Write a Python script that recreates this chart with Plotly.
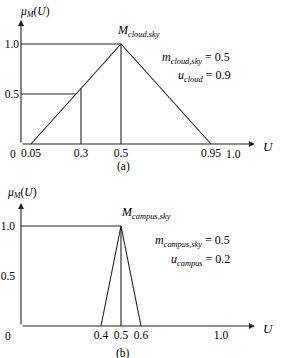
import numpy as np
import plotly.graph_objects as go

# ---- data (panel a) ----
cloud_u = [0.05, 0.5, 0.95]
cloud_mu = [0.0, 1.0, 0.0]
cloud_guide_x = 0.3
cloud_guide_mu = 0.5
cloud_xticks = [0.05, 0.3, 0.5, 0.95]
cloud_xtext = ["0.05", "0.3", "0.5", "0.95"]
cloud_xend = 1.0
cloud_xend_text = "1.0"
m_cloud_sky = 0.5
u_cloud = 0.9

# ---- data (panel b) ----
campus_u = [0.4, 0.5, 0.6]
campus_mu = [0.0, 1.0, 0.0]
campus_xticks = [0.4, 0.5, 0.6, 1.0]
campus_xtext = ["0.4", "0.5", "0.6", "1.0"]
m_campus_sky = 0.5
u_campus = 0.2

yticks = [0.5, 1.0]
ytext = ["0.5", "1.0"]

W, H = 281, 358
FONT = "Liberation Serif, Times New Roman, serif"
LC = "#222222"
LW = 1.1
TF = 11.5

fig = go.Figure()


def line(x, y, xa, ya):
    fig.add_trace(go.Scatter(x=x, y=y, mode="lines", xaxis=xa, yaxis=ya,
                             line=dict(color=LC, width=LW),
                             hoverinfo="skip", showlegend=False))


# panel a
line(cloud_u, cloud_mu, "x", "y")
peak_a = cloud_u[1]
line([0, peak_a], [1, 1], "x", "y")
line([peak_a, peak_a], [0, 1], "x", "y")
# guide lines to the rising edge
edge_x = float(np.interp(cloud_guide_mu, cloud_mu[:2], cloud_u[:2]))
edge_y = float(np.interp(cloud_guide_x, cloud_u[:2], cloud_mu[:2]))
line([0, edge_x], [cloud_guide_mu, cloud_guide_mu], "x", "y")
line([cloud_guide_x, cloud_guide_x], [0, edge_y], "x", "y")

# panel b
line(campus_u, campus_mu, "x2", "y2")
peak_b = campus_u[1]
line([0, peak_b], [1, 1], "x2", "y2")
line([peak_b, peak_b], [0, 1], "x2", "y2")

xr = [-0.105, 1.3]
common_ax = dict(showgrid=False, zeroline=False, showline=False, ticks="",
                 tickangle=0,
                 tickfont=dict(family=FONT, size=TF, color="black"), fixedrange=True)

fig.update_layout(
    width=W, height=H, margin=dict(l=0, r=0, t=0, b=0),
    plot_bgcolor="white", paper_bgcolor="white",
    xaxis=dict(domain=[0, 1], range=xr, anchor="free", position=(H - 144) / H,
               tickvals=cloud_xticks, ticktext=cloud_xtext, ticklabelstandoff=0,
               **common_ax),
    yaxis=dict(domain=[(H - 172) / H, 1], range=[-0.28, 1.44], anchor="free",
               position=21 / W, tickvals=yticks, ticktext=ytext, ticklabelstandoff=2,
               **common_ax),
    xaxis2=dict(domain=[0, 1], range=xr, anchor="free", position=32 / H,
                tickvals=campus_xticks, ticktext=campus_xtext, ticklabelstandoff=0,
                **common_ax),
    yaxis2=dict(domain=[0, (H - 172) / H], range=[-0.32, 1.54], anchor="free",
                position=21 / W, tickvals=yticks, ticktext=ytext, ticklabelstandoff=6,
                **common_ax),
)

anns = []


def arrow(x, y, ax, ay, xr_, yr_):
    anns.append(dict(x=x, y=y, ax=ax, ay=ay, xref=xr_, yref=yr_, axref=xr_, ayref=yr_,
                     showarrow=True, arrowhead=2, arrowsize=1.1, arrowwidth=LW,
                     arrowcolor=LC, text=""))


def txt(x, y, s, xr_, yr_, anchor="center", size=12, xshift=0):
    anns.append(dict(x=x, y=y, xref=xr_, yref=yr_, text=s, showarrow=False,
                     xanchor=anchor, yanchor="middle", xshift=xshift,
                     font=dict(family=FONT, size=size, color="black")))


for xa, ya, ytop, lab_y, sub_name, m_val, u_name, u_val, M_name, (a_y, tag) in [
    ("x", "y", 1.24, 1.32, "cloud,sky", m_cloud_sky, "cloud", u_cloud, "cloud,sky", (-0.225, "(a)")),
    ("x2", "y2", 1.23, 1.33, "campus,sky", m_campus_sky, "campus", u_campus, "campus,sky", (-0.27, "(b)")),
]:
    arrow(1.17, 0, 0, 0, xa, ya)
    arrow(0, ytop, 0, 0, xa, ya)
    txt(-0.04 if xa == "x" else -0.065, -0.1, "0", xa, ya, size=TF)
    txt(1.235, -0.02, "<i>U</i>", xa, ya, size=13)
    txt(-0.015 if xa == "x" else -0.08, lab_y,
        "<i>μ</i><sub><i>M</i></sub>(<i>U</i>)", xa, ya, anchor="left", size=TF)
    txt(0.47 if xa == "x" else 0.49, 1.13,
        "<i>M</i><sub><i>%s</i></sub>" % M_name, xa, ya, anchor="left", size=12)
    txt(1.055, 0.86 if xa == "x" else 0.85,
        "<i>m</i><sub><i>%s</i></sub> = %.1f" % (sub_name, m_val), xa, ya, anchor="right", size=12)
    txt(1.055, 0.68 if xa == "x" else 0.66,
        "<i>u</i><sub><i>%s</i></sub> = %.1f" % (u_name, u_val), xa, ya, anchor="right", size=12)
    txt(0.51, a_y, tag, xa, ya, size=TF)

# end label of panel (a) axis, set just to the right of its value (as in the reference)
txt(cloud_xend, -0.1, cloud_xend_text, "x", "y", anchor="left", size=TF, xshift=3)

fig.update_layout(annotations=anns)
fig.write_html("out.html")
